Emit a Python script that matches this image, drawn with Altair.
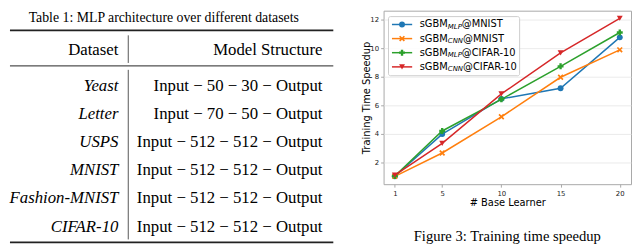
import altair as alt
import pandas as pd

# ---------------- data ----------------
table_caption = "Table 1: MLP architecture over different datasets"
header_left = "Dataset"
header_right = "Model Structure"
datasets = ["Yeast", "Letter", "USPS", "MNIST", "Fashion-MNIST", "CIFAR-10"]
structures = [
    "Input − 50 − 30 − Output",
    "Input − 70 − 50 − Output",
    "Input − 512 − 512 − Output",
    "Input − 512 − 512 − Output",
    "Input − 512 − 512 − Output",
    "Input − 512 − 512 − Output",
]

base_learners = [1, 5, 10, 15, 20]
mlp_mnist = [1.0, 3.97, 6.45, 7.2, 10.78]
cnn_mnist = [1.0, 2.64, 5.19, 7.97, 9.9]
mlp_cifar = [1.02, 4.19, 6.42, 8.74, 11.12]
cnn_cifar = [1.08, 3.32, 6.8, 9.69, 12.12]

series_main = ["sGBM", "sGBM", "sGBM", "sGBM"]
series_sub = ["MLP", "CNN", "MLP", "CNN"]
series_tail = ["@MNIST", "@MNIST", "@CIFAR-10", "@CIFAR-10"]
series_values = [mlp_mnist, cnn_mnist, mlp_cifar, cnn_cifar]
colors = ["#1f77b4", "#ff7f0e", "#2ca02c", "#d62728"]
X_SHAPE = "M-1,-0.6L-0.6,-1L0,-0.4L0.6,-1L1,-0.6L0.4,0L1,0.6L0.6,1L0,0.4L-0.6,1L-1,0.6L-0.4,0Z"
shapes = ["circle", X_SHAPE, "cross", "triangle-down"]

x_ticks = [1, 5, 10, 15, 20]
y_ticks = [2, 4, 6, 8, 10, 12]
figure_caption = "Figure 3: Training time speedup"

SERIF = "Liberation Serif"
SANS = "DejaVu Sans"

# ---------------- table panel ----------------
rows = pd.DataFrame({"row": list(range(len(datasets))), "dataset": datasets, "structure": structures})
row_y = alt.Y("row:O", scale=alt.Scale(type="point", range=[76.5, 219], padding=0), axis=None)

def one(text):
    return pd.DataFrame({"t": [text]})

BODY = 17

cap = alt.Chart(one(table_caption)).mark_text(
    font=SERIF, fontSize=14, align="center", baseline="middle", color="black"
).encode(x=alt.value(156), y=alt.value(7), text="t:N")

hdr_l = alt.Chart(one(header_left)).mark_text(
    font=SERIF, fontSize=BODY, align="right", baseline="middle", color="black"
).encode(x=alt.value(110), y=alt.value(40), text="t:N")
hdr_r = alt.Chart(one(header_right)).mark_text(
    font=SERIF, fontSize=BODY, align="right", baseline="middle", color="black"
).encode(x=alt.value(317), y=alt.value(40), text="t:N")

ds_text = alt.Chart(rows).mark_text(
    font=SERIF, fontSize=BODY, fontStyle="italic", align="right", baseline="middle", color="black"
).encode(x=alt.value(110), y=row_y, text="dataset:N")
st_text = alt.Chart(rows).mark_text(
    font=SERIF, fontSize=BODY, align="right", baseline="middle", color="black"
).encode(x=alt.value(317), y=row_y, text="structure:N")

def hrule(y, w):
    return alt.Chart(one("r")).mark_rule(color="#222", strokeWidth=w).encode(
        x=alt.value(0), x2=alt.value(328), y=alt.value(y))

def vrule(y1, y2):
    return alt.Chart(one("v")).mark_rule(color="#555", strokeWidth=1).encode(
        x=alt.value(120), y=alt.value(y1), y2=alt.value(y2))

table = alt.layer(
    cap, hrule(20, 1.6), hdr_l, hdr_r, vrule(25, 53), hrule(56, 1), vrule(60, 232),
    ds_text, st_text, hrule(235, 1.6)
).properties(width=331, height=238)

# ---------------- speedup chart ----------------
xs = alt.Scale(domain=[0.05, 20.95], nice=False, zero=False)
ys = alt.Scale(domain=[0.445, 12.655], nice=False, zero=False)

layers = []
for name_i, vals in enumerate(series_values):
    df = pd.DataFrame({"n": base_learners, "s": vals})
    layers.append(
        alt.Chart(df).mark_line(
            color=colors[name_i], strokeWidth=1.5,
            point=alt.OverlayMarkDef(shape=shapes[name_i], size=36, filled=True,
                                     color=colors[name_i], opacity=1),
        ).encode(
            x=alt.X("n:Q", scale=xs,
                    axis=alt.Axis(values=x_ticks, title="# Base Learner", grid=False,
                                  titlePadding=2)),
            y=alt.Y("s:Q", scale=ys,
                    axis=alt.Axis(values=y_ticks, title="Training Time Speedup", grid=True,
                                  titlePadding=-2)),
        )
    )

# legend (drawn by hand so that the subscripts can be shown)
legend_box = alt.Chart(one("b")).mark_rect(
    fill="white", fillOpacity=0.85, stroke="#cccccc", strokeWidth=1, cornerRadius=2
).encode(x=alt.value(5), x2=alt.value(138), y=alt.value(6), y2=alt.value(66))
layers.append(legend_box)

leg_rows = [14, 28.3, 42.6, 57]
tail_x = {"MLP": 79.4, "CNN": 80.6}
for i in range(4):
    ly = leg_rows[i]
    layers.append(alt.Chart(one("l")).mark_rule(color=colors[i], strokeWidth=1.5).encode(
        x=alt.value(8.5), x2=alt.value(29), y=alt.value(ly)))
    layers.append(alt.Chart(one("p")).mark_point(
        shape=shapes[i], size=36, filled=True, color=colors[i], opacity=1
    ).encode(x=alt.value(18.7), y=alt.value(ly)))
    layers.append(alt.Chart(one(series_main[i])).mark_text(
        font=SANS, fontSize=10, align="left", baseline="middle", color="black"
    ).encode(x=alt.value(36.6), y=alt.value(ly), text="t:N"))
    layers.append(alt.Chart(one(series_sub[i])).mark_text(
        font=SANS, fontSize=7, fontStyle="italic", align="left", baseline="middle", color="black"
    ).encode(x=alt.value(65.2), y=alt.value(ly + 2.5), text="t:N"))
    layers.append(alt.Chart(one(series_tail[i])).mark_text(
        font=SANS, fontSize=10, align="left", baseline="middle", color="black"
    ).encode(x=alt.value(tail_x[series_sub[i]]), y=alt.value(ly), text="t:N"))

speed = alt.layer(*layers).properties(
    width=251, height=176,
    view=alt.ViewBackground(stroke="#a8a8a8", strokeWidth=1),
    title=alt.TitleParams(figure_caption, orient="bottom", anchor="middle", font=SERIF,
                          fontSize=14.8, fontWeight="normal", color="black", offset=22),
)

chart = alt.hconcat(table, speed, spacing=24).properties(
    padding={"left": 0, "top": 0, "right": 0, "bottom": 0}
).configure_view(stroke="transparent").configure_axis(
    domain=False, tickColor="#a8a8a8", tickSize=3, labelFont=SANS, labelFontSize=7,
    labelColor="#222", labelPadding=2, titleFont=SANS, titleFontSize=10,
    titleFontWeight="normal", titleColor="black",
    gridColor="#e6e6e6", gridWidth=0.8,
)

chart.save("out.html", embed_options={"renderer": "svg", "actions": False})
